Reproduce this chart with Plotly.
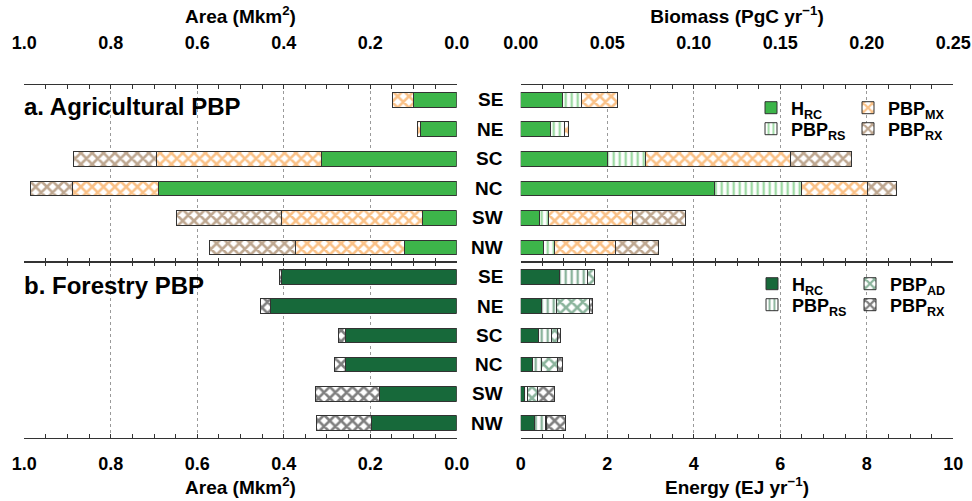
import plotly.graph_objects as go

# ---------------- data ----------------
regions = ["SE", "NE", "SC", "NC", "SW", "NW"]

# a. Agricultural PBP – area (Mkm2)
agri_area_hrc = [0.099, 0.083, 0.312, 0.689, 0.080, 0.121]
agri_area_mx = [0.049, 0.008, 0.382, 0.199, 0.325, 0.251]
agri_area_rx = [None, None, 0.192, 0.097, 0.243, 0.200]

# a. Agricultural PBP – biomass (PgC yr-1)
agri_bio_hrc = [0.0243, 0.0173, 0.0503, 0.1121, 0.0110, 0.0131]
agri_bio_rs = [0.0109, 0.0079, 0.0219, 0.0501, 0.0052, 0.0062]
agri_bio_mx = [0.0207, 0.0025, 0.0838, 0.0381, 0.0485, 0.0354]
agri_bio_rx = [None, None, 0.0349, 0.0166, 0.0303, 0.0248]

# b. Forestry PBP – area (Mkm2)
for_area_hrc = [0.405, 0.431, 0.257, 0.257, 0.178, 0.198]
for_area_rx = [0.005, 0.022, 0.017, 0.025, 0.149, 0.127]

# b. Forestry PBP – energy (EJ yr-1)
for_en_hrc = [0.89, 0.485, 0.416, 0.28, 0.077, 0.324]
for_en_rs = [0.65, 0.347, 0.285, 0.21, 0.07, 0.24]
for_en_ad = [0.16, 0.75, 0.16, 0.365, 0.25, 0.03]
for_en_rx = [None, 0.08, 0.07, 0.12, 0.38, 0.43]

area_ticks = [1.0, 0.8, 0.6, 0.4, 0.2, 0.0]
bio_ticks = [0.00, 0.05, 0.10, 0.15, 0.20, 0.25]
en_ticks = [0, 2, 4, 6, 8, 10]

# ---------------- style ----------------
W, H = 972, 501
FONT = "Liberation Sans, Arial, Helvetica, sans-serif"
GREEN_A = "#3db54a"
GREEN_F = "#17693a"
ORANGE = "#f5840f"
BROWN = "#7d4f22"
BLACK_H = "#000000"
EDGE = "#333333"


def px(p):
    return p / W


def py(p):
    return 1 - p / H


def style(kind, color):
    if kind == "solid":
        return dict(color=color, line=dict(color=EDGE, width=1))
    if kind == "stripe":
        return dict(color="white", line=dict(color=EDGE, width=1),
                    pattern=dict(shape="|", fgcolor=color, bgcolor="white",
                                 size=6, solidity=0.4, fillmode="overlay"))
    return dict(color="white", line=dict(color=EDGE, width=1),
                pattern=dict(shape="x", fgcolor=color, bgcolor="white",
                             size=8, solidity=0.55, fillmode="overlay"))


fig = go.Figure()


def add(name, vals, xa, ya, kind, color, legend=None):
    fig.add_trace(go.Bar(
        y=regions, x=vals, orientation="h", name=name, width=0.5,
        xaxis=xa, yaxis=ya, marker=style(kind, color),
        showlegend=legend is not None, legend=legend or "legend",
        hoverinfo="x+name",
    ))


HRC = "<b>H<sub>RC</sub></b>"
RS = "<b>PBP<sub>RS</sub></b>"
MX = "<b>PBP<sub>MX</sub></b>"
RX = "<b>PBP<sub>RX</sub></b>"
AD = "<b>PBP<sub>AD</sub></b>"

# agricultural left (area)
add(HRC, agri_area_hrc, "x", "y", "solid", GREEN_A)
add(MX, agri_area_mx, "x", "y", "hatch", ORANGE)
add(RX, agri_area_rx, "x", "y", "hatch", BROWN)
# agricultural right (biomass)
add(HRC, agri_bio_hrc, "x2", "y2", "solid", GREEN_A, "legend")
add(RS, agri_bio_rs, "x2", "y2", "stripe", GREEN_A, "legend2")
add(MX, agri_bio_mx, "x2", "y2", "hatch", ORANGE, "legend3")
add(RX, agri_bio_rx, "x2", "y2", "hatch", BROWN, "legend4")
# forestry left (area)
add(HRC, for_area_hrc, "x3", "y3", "solid", GREEN_F)
add(RX, for_area_rx, "x3", "y3", "hatch", BLACK_H)
# forestry right (energy)
add(HRC, for_en_hrc, "x4", "y4", "solid", GREEN_F, "legend5")
add(RS, for_en_rs, "x4", "y4", "stripe", GREEN_F, "legend6")
add(AD, for_en_ad, "x4", "y4", "hatch", GREEN_F, "legend7")
add(RX, for_en_rx, "x4", "y4", "hatch", BLACK_H, "legend8")

XL = [px(24.3), px(456.7)]
XR = [px(520.7), px(953.3)]
YA = [py(262.3), py(85)]
YF = [py(437.7), py(262.3)]

tickfont = dict(family=FONT, size=18, color="black", weight="bold")
titlefont = dict(family=FONT, size=19, color="black", weight="bold")


def xaxis(domain, anchor, side, rng, tickvals, fmt, minor_dtick, title,
          standoff_lbl, standoff_title):
    return dict(
        domain=domain, anchor=anchor, side=side, range=rng,
        tickmode="array", tickvals=tickvals, tickformat=fmt,
        showline=True, linecolor=EDGE, linewidth=1, mirror="ticks",
        ticks="inside", ticklen=4, tickcolor=EDGE, tickwidth=1,
        showgrid=True, gridcolor="#9a9a9a", griddash="dot", gridwidth=1,
        zeroline=False, tickfont=tickfont, ticklabelstandoff=standoff_lbl,
        minor=dict(ticks="inside", ticklen=4, dtick=minor_dtick,
                   tickcolor=EDGE, tickwidth=1, showgrid=False),
        title=dict(text=title, font=titlefont, standoff=standoff_title),
        automargin=False, fixedrange=True,
    )


def yaxis(domain, anchor):
    return dict(domain=domain, anchor=anchor, range=[5.5, -0.5],
                type="category", categoryorder="array", categoryarray=regions,
                showticklabels=False, showgrid=False, showline=False,
                zeroline=False, ticks="", automargin=False, fixedrange=True)


AREA = "Area (Mkm<sup>2</sup>)"
fig.update_layout(
    width=W, height=H, margin=dict(l=0, r=0, t=0, b=0, autoexpand=False),
    paper_bgcolor="white", plot_bgcolor="white",
    barmode="stack", bargap=0.5,
    font=dict(family=FONT, color="black"),
    xaxis=xaxis(XL, "y", "top", [1.0, 0.0], area_ticks, ".1f", 0.05,
                AREA, 28, 4),
    xaxis2=xaxis(XR, "y2", "top", [0, 0.25], bio_ticks, ".2f", 0.0125,
                 "Biomass (PgC yr<sup>−1</sup>)", 28, 4),
    xaxis3=xaxis(XL, "y3", "bottom", [1.0, 0.0], area_ticks, ".1f", 0.05,
                 AREA, 10, 6),
    xaxis4=xaxis(XR, "y4", "bottom", [0, 10], en_ticks, "d", 0.5,
                 "Energy (EJ yr<sup>−1</sup>)", 10, 6),
    yaxis=yaxis(YA, "x"),
    yaxis2=yaxis(YA, "x2"),
    yaxis3=yaxis(YF, "x3"),
    yaxis4=yaxis(YF, "x4"),
)

legfont = dict(family=FONT, size=18, color="black")
leg_common = dict(bgcolor="rgba(0,0,0,0)", borderwidth=0, font=legfont,
                  xanchor="left", yanchor="middle", traceorder="normal",
                  itemclick=False, itemdoubleclick=False)
# one legend per entry so the 2x2 grid can be placed exactly
leg_pos = {
    "legend": (751, 108), "legend2": (751, 129),
    "legend3": (848, 108), "legend4": (848, 129),
    "legend5": (752, 284), "legend6": (752, 305),
    "legend7": (850, 284), "legend8": (850, 305),
}
fig.update_layout(**{k: dict(x=px(x), y=py(y), **leg_common)
                     for k, (x, y) in leg_pos.items()})

# region labels between panels
for i, r in enumerate(regions):
    for ya in ("y2", "y4"):
        fig.add_annotation(x=px(505), xref="paper", xanchor="right",
                           y=r, yref=ya, text=f"<b>{r}</b>", showarrow=False,
                           font=dict(family=FONT, size=19, color="black"))

# panel labels
fig.add_annotation(x=px(22), xref="paper", xanchor="left", y=py(107),
                   yref="paper", yanchor="middle", showarrow=False,
                   text="<b>a. Agricultural PBP</b>",
                   font=dict(family=FONT, size=24, color="black"))
fig.add_annotation(x=px(22), xref="paper", xanchor="left", y=py(285),
                   yref="paper", yanchor="middle", showarrow=False,
                   text="<b>b. Forestry PBP</b>",
                   font=dict(family=FONT, size=24, color="black"))

# the page body has a default 8px margin; remove it so the figure fills the window
fig.write_html("out.html",
               config={"displayModeBar": False, "staticPlot": False},
               post_script="document.body.style.margin='0';"
                           "document.body.style.overflow='hidden';")
